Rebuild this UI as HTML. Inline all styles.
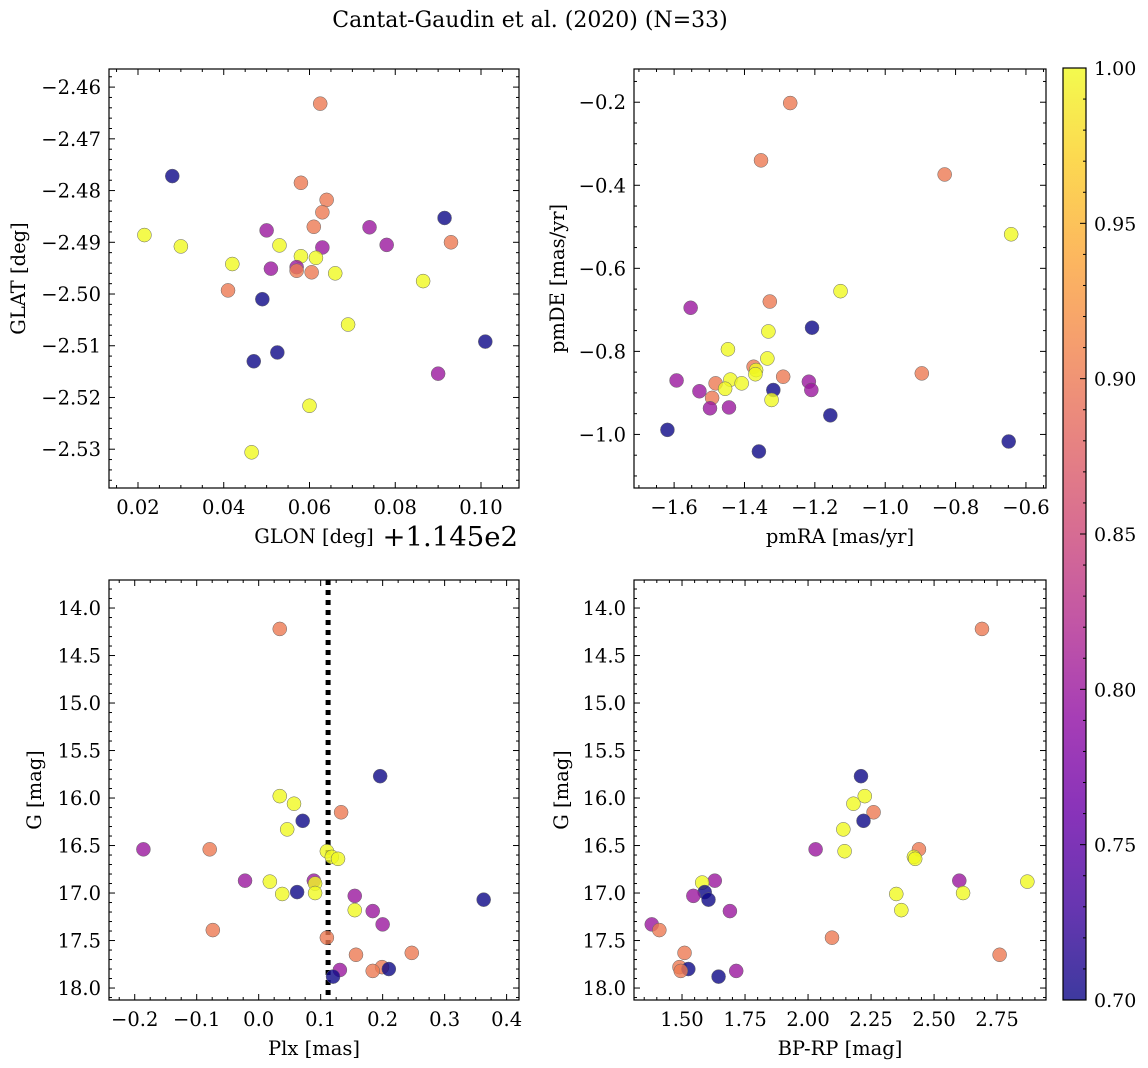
<!DOCTYPE html>
<html><head><meta charset="utf-8">
<style>
html,body{margin:0;padding:0;background:#fff;}
svg{display:block;font-family:"DejaVu Serif","Liberation Serif",serif;}
</style></head>
<body>
<svg id="fig" width="1148" height="1068" viewBox="0 0 1148 1068" xmlns="http://www.w3.org/2000/svg">
<defs>
<linearGradient id="plasma" x1="0" y1="1" x2="0" y2="0">
<stop offset="0" stop-color="#0d0887"/><stop offset="0.1" stop-color="#41049d"/>
<stop offset="0.2" stop-color="#6a00a8"/><stop offset="0.3" stop-color="#8f0da4"/>
<stop offset="0.4" stop-color="#b12a90"/><stop offset="0.5" stop-color="#cc4778"/>
<stop offset="0.6" stop-color="#e16462"/><stop offset="0.7" stop-color="#f2844b"/>
<stop offset="0.8" stop-color="#fca636"/><stop offset="0.9" stop-color="#fcce25"/>
<stop offset="1" stop-color="#f0f921"/>
</linearGradient>
</defs>
<text x="530" y="27" font-size="22" text-anchor="middle">Cantat-Gaudin et al. (2020) (N=33)</text>
</svg>
<script>
// ---- data ----
const glon = [0.0625,0.028,0.058,0.064,0.063,0.0915,0.0215,0.050,0.061,0.074,0.030,0.053,0.063,0.078,0.093,0.058,0.0615,0.042,0.051,0.057,0.057,0.0605,0.066,0.0865,0.041,0.049,0.069,0.0525,0.047,0.101,0.090,0.060,0.0465];
const glat = [-2.4632,-2.4772,-2.4785,-2.4818,-2.4842,-2.4853,-2.4886,-2.4877,-2.4870,-2.4871,-2.4908,-2.4906,-2.4910,-2.4905,-2.4900,-2.4927,-2.4930,-2.4942,-2.4951,-2.4948,-2.4955,-2.4958,-2.4960,-2.4975,-2.4993,-2.5010,-2.5059,-2.5113,-2.5130,-2.5092,-2.5154,-2.5216,-2.5306];
const probA = [0.9,0.7,0.9,0.9,0.9,0.7,1,0.8,0.9,0.8,1,1,0.8,0.8,0.9,1,1,1,0.8,0.8,0.9,0.9,1,1,0.9,0.7,1,0.7,0.7,0.7,0.8,1,1];

const pmra = [-1.270,-1.353,-0.831,-0.642,-1.127,-1.328,-1.553,-1.208,-1.332,-1.447,-1.335,-1.374,-1.367,-1.369,-0.896,-1.290,-1.593,-1.440,-1.482,-1.408,-1.217,-1.455,-1.318,-1.210,-1.528,-1.492,-1.323,-1.498,-1.444,-1.156,-1.619,-0.649,-1.359];
const pmde = [-0.202,-0.340,-0.374,-0.518,-0.655,-0.680,-0.695,-0.743,-0.752,-0.795,-0.817,-0.837,-0.845,-0.855,-0.853,-0.861,-0.870,-0.868,-0.877,-0.877,-0.873,-0.890,-0.893,-0.893,-0.896,-0.912,-0.917,-0.937,-0.935,-0.954,-0.989,-1.017,-1.041];
const probB = [0.9,0.9,0.9,1,1,0.9,0.8,0.7,1,1,1,0.9,1,1,0.9,0.9,0.8,1,0.9,1,0.8,1,0.7,0.8,0.8,0.9,1,0.8,0.8,0.7,0.7,0.7,0.7];

const plx = [0.034,0.196,0.034,0.057,0.133,0.071,0.046,-0.186,-0.079,0.110,0.118,0.128,-0.022,0.018,0.089,0.091,0.062,0.038,0.091,0.155,0.363,0.155,0.184,0.200,-0.074,0.110,0.247,0.157,0.199,0.210,0.184,0.131,0.120];
const gmag = [14.22,15.77,15.98,16.06,16.15,16.24,16.33,16.54,16.54,16.56,16.62,16.64,16.87,16.88,16.87,16.90,16.99,17.01,17.00,17.03,17.07,17.18,17.19,17.33,17.39,17.47,17.63,17.65,17.78,17.80,17.82,17.81,17.88];
const probC = [0.9,0.7,1,1,0.9,0.7,1,0.8,0.9,1,1,1,0.8,1,0.8,1,0.7,1,1,0.8,0.7,1,0.8,0.8,0.9,0.9,0.9,0.9,0.9,0.7,0.9,0.8,0.7];

const bprp = [2.69,2.21,2.225,2.18,2.26,2.22,2.14,2.03,2.44,2.145,2.42,2.425,1.63,1.58,2.6,2.87,1.59,2.35,2.615,1.545,1.605,2.37,1.69,1.38,1.41,2.095,1.51,2.76,1.49,1.525,1.495,1.715,1.645];
const gmag2 = [14.22,15.77,15.98,16.06,16.15,16.24,16.33,16.54,16.54,16.56,16.62,16.64,16.87,16.89,16.87,16.88,16.99,17.01,17.00,17.03,17.07,17.18,17.19,17.33,17.39,17.47,17.63,17.65,17.78,17.80,17.82,17.82,17.88];
const probD = [0.9,0.7,1,1,0.9,0.7,1,0.8,0.9,1,1,1,0.8,1,0.8,1,0.7,1,1,0.8,0.7,1,0.8,0.8,0.9,0.9,0.9,0.9,0.9,0.7,0.9,0.8,0.7];

const plxMean = [0.112];
const cbTicks = [0.70,0.75,0.80,0.85,0.90,0.95,1.00];

// ---- helpers ----
const NS="http://www.w3.org/2000/svg";
const svg=document.getElementById('fig');
function mk(tag,attrs,parent){const e=document.createElementNS(NS,tag);for(const k in attrs)e.setAttribute(k,attrs[k]);(parent||svg).appendChild(e);return e;}
const stops=[[0,[13,8,135]],[0.1,[65,4,157]],[0.2,[106,0,168]],[0.3,[143,13,164]],[0.4,[177,42,144]],[0.5,[204,71,120]],[0.6,[225,100,98]],[0.7,[242,132,75]],[0.8,[252,166,54]],[0.9,[252,206,37]],[1,[240,249,33]]];
function plasma(v){let t=(v-0.7)/0.3;t=Math.max(0,Math.min(1,t));for(let i=1;i<stops.length;i++){if(t<=stops[i][0]){const a=stops[i-1],b=stops[i];const f=(t-a[0])/(b[0]-a[0]);const c=a[1].map((x,j)=>Math.round(x+(b[1][j]-x)*f));return `rgb(${c.join(',')})`;}}return 'rgb(240,249,33)';}
function fmt(v,d){const s=v.toFixed(d);return s.replace('-','−');}

function panel(cfg){
  const g=mk('g',{});
  
  
  const {L,T,R,B}=cfg;
  const sx=v=>L+(v-cfg.x0)/(cfg.x1-cfg.x0)*(R-L);
  const sy=v=>T+(v-cfg.y0)/(cfg.y1-cfg.y0)*(B-T);
  if(cfg.vline!==undefined){
    const vl=mk('line',{x1:sx(cfg.vline),x2:sx(cfg.vline),y1:T,y2:B,stroke:'#000','stroke-width':5,'stroke-dasharray':'5,5'},g);
    
    
  }
  for(let i=0;i<cfg.xs.length;i++){
    const c=mk('circle',{cx:sx(cfg.xs[i]),cy:sy(cfg.ys[i]),r:7,fill:plasma(cfg.ps[i]),'fill-opacity':0.8,stroke:'#666','stroke-width':0.5},g);
    
    
  }
  mk('rect',{x:L,y:T,width:R-L,height:B-T,fill:'none',stroke:'#000','stroke-width':1.2},g);
  const xlo=Math.min(cfg.x0,cfg.x1),xhi=Math.max(cfg.x0,cfg.x1);
  const xm=cfg.xstep/cfg.xminor;
  for(let k=Math.ceil(xlo/xm-1e-6);k*xm<=xhi+1e-9;k++){
    const v=k*xm,x=sx(v);const major=Math.abs(Math.round(v/cfg.xstep)*cfg.xstep-v)<xm*0.01;
    const len=major?6:3;
    mk('line',{x1:x,x2:x,y1:B,y2:B-len,stroke:'#000','stroke-width':1},g);
    mk('line',{x1:x,x2:x,y1:T,y2:T+len,stroke:'#000','stroke-width':1},g);
    if(major){const t=mk('text',{x:x,y:B+26,'font-size':19.5,'text-anchor':'middle'},g);t.textContent=fmt(v,cfg.xd);
      }
  }
  const ylo=Math.min(cfg.y0,cfg.y1),yhi=Math.max(cfg.y0,cfg.y1);
  const ym=cfg.ystep/cfg.yminor;
  for(let k=Math.ceil(ylo/ym-1e-6);k*ym<=yhi+1e-9;k++){
    const v=k*ym,y=sy(v);const major=Math.abs(Math.round(v/cfg.ystep)*cfg.ystep-v)<ym*0.01;
    const len=major?6:3;
    mk('line',{x1:L,x2:L+len,y1:y,y2:y,stroke:'#000','stroke-width':1},g);
    mk('line',{x1:R,x2:R-len,y1:y,y2:y,stroke:'#000','stroke-width':1},g);
    if(major){const t=mk('text',{x:L-8,y:y+7,'font-size':19.5,'text-anchor':'end'},g);t.textContent=fmt(v,cfg.yd);
      }
  }
  const xt=mk('text',{x:cfg.xlx||(L+R)/2,y:B+55,'font-size':19.5,'text-anchor':'middle'},g);xt.textContent=cfg.xlabel;
  
  const yt=mk('text',{x:0,y:0,'font-size':19.5,'text-anchor':'middle',transform:`translate(${cfg.ylx},${(T+B)/2}) rotate(-90)`},g);yt.textContent=cfg.ylabel;
  
}

panel({name:'glon-glat-panel',L:109,T:69,R:519,B:488,x0:0.01324,x1:0.10886,y0:-2.4565,y1:-2.5375,xstep:0.02,xminor:4,ystep:0.01,yminor:5,xd:2,yd:2,xs:glon,ys:glat,ps:probA,xlabel:'GLON [deg]',xlx:314,ylabel:'GLAT [deg]',ylx:25});
panel({name:'proper-motion-panel',L:634,T:69,R:1046,B:488,x0:-1.714,x1:-0.543,y0:-0.120,y1:-1.129,xstep:0.2,xminor:4,ystep:0.2,yminor:4,xd:1,yd:1,xs:pmra,ys:pmde,ps:probB,xlabel:'pmRA [mas/yr]',ylabel:'pmDE [mas/yr]',ylx:564});
panel({name:'parallax-mag-panel',L:109,T:580,R:519,B:1000,x0:-0.2415,x1:0.420,y0:13.705,y1:18.126,xstep:0.1,xminor:4,ystep:0.5,yminor:5,xd:1,yd:1,xs:plx,ys:gmag,ps:probC,xlabel:'Plx [mas]',ylabel:'G [mag]',ylx:41,vline:plxMean[0]});
panel({name:'color-mag-panel',L:634,T:580,R:1046,B:1000,x0:1.3095,x1:2.944,y0:13.705,y1:18.126,xstep:0.25,xminor:5,ystep:0.5,yminor:5,xd:2,yd:1,xs:bprp,ys:gmag2,ps:probD,xlabel:'BP-RP [mag]',ylabel:'G [mag]',ylx:568});

const off=mk('text',{x:518,y:546,'font-size':27.5,'text-anchor':'end'});off.textContent='+1.145e2';


const cbT=68,cbB=1000,cbL=1063,cbR=1086;
const cb=mk('rect',{x:cbL,y:cbT,width:cbR-cbL,height:cbB-cbT,fill:'url(#plasma)','fill-opacity':0.8,stroke:'#000','stroke-width':1.2});

const cy=v=>cbB-(v-0.7)/0.3*(cbB-cbT);
for(let k=70;k<=100;k++){const y=cy(k/100);const major=k%5===0;mk('line',{x1:cbR,x2:cbR-(major?6:3),y1:y,y2:y,stroke:'#000','stroke-width':1});}
cbTicks.forEach(v=>{const t=mk('text',{x:1094,y:cy(v)+7,'font-size':19});t.textContent=v.toFixed(2);
  });
</script>
</body></html>
